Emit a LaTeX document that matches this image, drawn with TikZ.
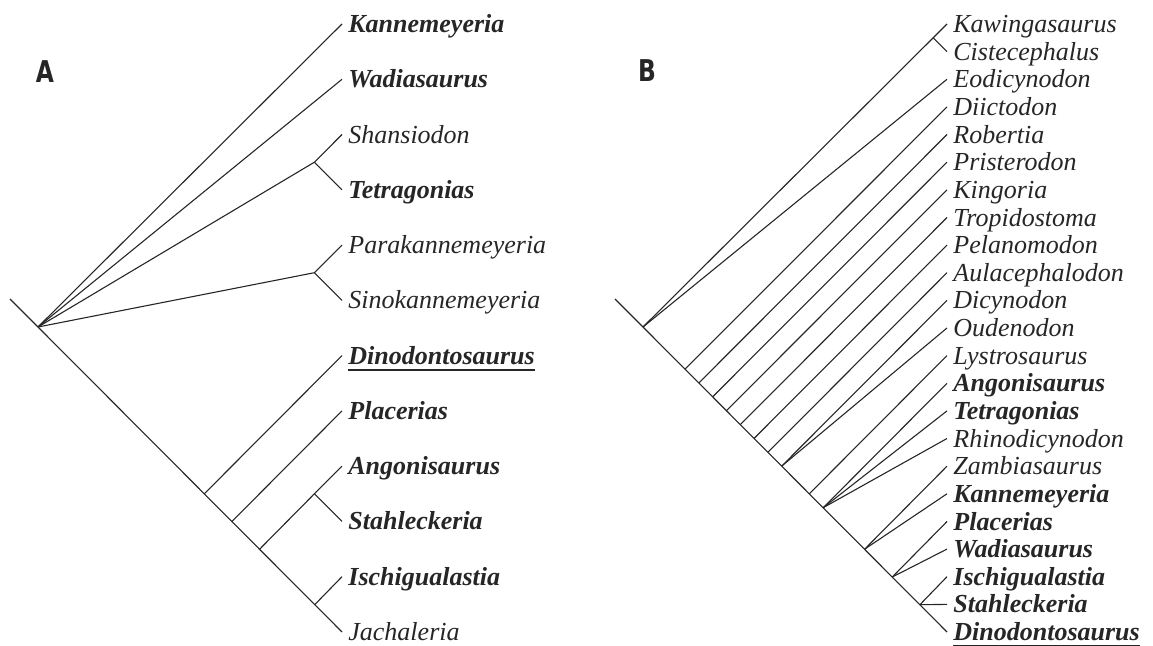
\documentclass[tikz,border=0pt]{standalone}
\usepackage{fontspec}
\setmainfont{Liberation Serif}
\newfontfamily\pnlfont{DejaVu Sans}
\usepackage{tikz}
\usetikzlibrary{calc}
\definecolor{INK}{HTML}{262626}
\newcommand\ulname[1]{{\setbox0\hbox{#1}\rlap{\rule[-3.2pt]{\wd0}{0.9pt}}\box0}}

\begin{document}
\begin{tikzpicture}[x=0.5pt,y=-0.5pt]
\tikzset{br/.style={INK,line width=0.55pt},
 tx/.style={anchor=west,inner xsep=3pt,inner ysep=0pt,text height=8.6pt,text depth=0pt,INK,font=\fontsize{13}{15}\selectfont\itshape},
 tb/.style={tx,font=\fontsize{13}{15}\selectfont\bfseries\itshape},
 pnl/.style={INK,font=\fontsize{15}{17}\selectfont\pnlfont\bfseries}}
\useasboundingbox (0,0) rectangle (1153,646);
% panel A
\node[pnl] (labA) at (45,72) {\scalebox{0.78}[1]{A}};
\node[tb] (kanA) at (342,24) {Kannemeyeria};
\node[tb] (wadA) at (342,79.3) {Wadiasaurus};
\node[tx] (shaA) at (342,134.5) {Shansiodon};
\node[tb] (tetA) at (342,189.8) {Tetragonias};
\node[tx] (parA) at (342,245.1) {Parakannemeyeria};
\node[tx] (sinA) at (342,300.4) {Sinokannemeyeria};
\node[tb] (dinA) at (342,355.6) {\ulname{Dinodontosaurus}};
\node[tb] (plaA) at (342,410.9) {Placerias};
\node[tb] (angA) at (342,466.2) {Angonisaurus};
\node[tb] (staA) at (342,521.4) {Stahleckeria};
\node[tb] (iscA) at (342,576.7) {Ischigualastia};
\node[tx] (jacA) at (342,632) {Jachaleria};
\coordinate (stA) at (10,299);
\coordinate (rtA) at (38,327);
\coordinate (n1A) at (314.4,162.2);
\coordinate (n2A) at (314.4,272.7);
\coordinate (n3A) at (314.4,493.8);
\coordinate (s1A) at (204.3,493.8);
\coordinate (s2A) at (231.9,521.5);
\coordinate (s3A) at (259.6,549.2);
\coordinate (s4A) at (314.9,604.5);
\draw[br] (stA) -- (rtA) -- (jacA.west);
\draw[br] (rtA) -- (kanA.west);
\draw[br] (rtA) -- (wadA.west);
\draw[br] (rtA) -- (n1A) -- (shaA.west);
\draw[br] (n1A) -- (tetA.west);
\draw[br] (rtA) -- (n2A) -- (parA.west);
\draw[br] (n2A) -- (sinA.west);
\draw[br] (s1A) -- (dinA.west);
\draw[br] (s2A) -- (plaA.west);
\draw[br] (s3A) -- (n3A) -- (angA.west);
\draw[br] (n3A) -- (staA.west);
\draw[br] (s4A) -- (iscA.west);
% panel B
\node[pnl] (labB) at (647,71) {\scalebox{0.78}[1]{B}};
\node[tx] (kaw) at (947,24) {Kawingasaurus};
\node[tx] (cis) at (947,51.6) {Cistecephalus};
\node[tx] (eod) at (947,79.3) {Eodicynodon};
\node[tx] (dii) at (947,106.9) {Diictodon};
\node[tx] (rob) at (947,134.5) {Robertia};
\node[tx] (pri) at (947,162.2) {Pristerodon};
\node[tx] (kin) at (947,189.8) {Kingoria};
\node[tx] (tro) at (947,217.5) {Tropidostoma};
\node[tx] (pel) at (947,245.1) {Pelanomodon};
\node[tx] (aul) at (947,272.7) {Aulacephalodon};
\node[tx] (dic) at (947,300.4) {Dicynodon};
\node[tx] (oud) at (947,328) {Oudenodon};
\node[tx] (lys) at (947,355.6) {Lystrosaurus};
\node[tb] (angB) at (947,383.3) {Angonisaurus};
\node[tb] (tetB) at (947,410.9) {Tetragonias};
\node[tx] (rhi) at (947,438.5) {Rhinodicynodon};
\node[tx] (zam) at (947,466.2) {Zambiasaurus};
\node[tb] (kanB) at (947,493.8) {Kannemeyeria};
\node[tb] (plaB) at (947,521.5) {Placerias};
\node[tb] (wadB) at (947,549.1) {Wadiasaurus};
\node[tb] (iscB) at (947,576.7) {Ischigualastia};
\node[tb] (staB) at (947,604.4) {Stahleckeria};
\node[tb] (dinB) at (947,632) {\ulname{Dinodontosaurus}};
\coordinate (stB) at (615,299);
\coordinate (rtB) at (643,327);
\coordinate (kcB) at (933.2,37.8);
\coordinate (s1B) at (685,369.2);
\coordinate (s2B) at (698.8,383);
\coordinate (s3B) at (712.6,396.9);
\coordinate (s4B) at (726.4,410.7);
\coordinate (s5B) at (740.3,424.6);
\coordinate (s6B) at (754.1,438.4);
\coordinate (s7B) at (767.9,452.3);
\coordinate (s8B) at (781.7,466.1);
\coordinate (s9B) at (809.3,493.8);
\coordinate (s10B) at (823.2,507.7);
\coordinate (s11B) at (864.6,549.2);
\coordinate (s12B) at (892.3,577);
\coordinate (s13B) at (919.9,604.7);
\draw[br] (stB) -- (rtB) -- (dinB.west);
\draw[br] (rtB) -- (kcB) -- (kaw.west);
\draw[br] (kcB) -- (cis.west);
\draw[br] (rtB) -- (eod.west);
\draw[br] (s1B) -- (dii.west);
\draw[br] (s2B) -- (rob.west);
\draw[br] (s3B) -- (pri.west);
\draw[br] (s4B) -- (kin.west);
\draw[br] (s5B) -- (tro.west);
\draw[br] (s6B) -- (pel.west);
\draw[br] (s7B) -- (aul.west);
\draw[br] (s8B) -- (dic.west);
\draw[br] (s8B) -- (oud.west);
\draw[br] (s9B) -- (lys.west);
\draw[br] (s10B) -- (angB.west);
\draw[br] (s10B) -- (tetB.west);
\draw[br] (s10B) -- (rhi.west);
\draw[br] (s11B) -- (zam.west);
\draw[br] (s11B) -- (kanB.west);
\draw[br] (s12B) -- (plaB.west);
\draw[br] (s12B) -- (wadB.west);
\draw[br] (s13B) -- (iscB.west);
\draw[br] (s13B) -- (staB.west);
\end{tikzpicture}
\end{document}
